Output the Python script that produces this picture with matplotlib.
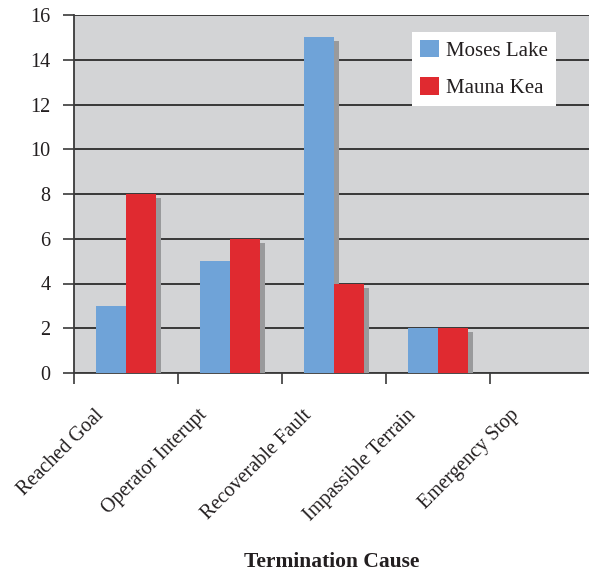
import matplotlib
matplotlib.use("Agg")
import matplotlib.pyplot as plt
import matplotlib.patheffects as pe
import matplotlib.transforms as mtransforms
from matplotlib.patches import Patch
import numpy as np

categories = ["Reached Goal", "Operator Interupt", "Recoverable Fault",
              "Impassible Terrain", "Emergency Stop"]
moses_lake = [3, 5, 15, 2, 0]
mauna_kea = [8, 6, 4, 2, 0]
series_names = ["Moses Lake", "Mauna Kea"]
y_ticks = [0, 2, 4, 6, 8, 10, 12, 14, 16]

plt.rcParams["font.family"] = ["Liberation Serif", "DejaVu Serif"]

W, H, DPI = 589, 574, 100
fig = plt.figure(figsize=(W / DPI, H / DPI), dpi=DPI)
ax = fig.add_axes([74 / W, 1 - 373 / H, (W - 74) / W, (373 - 15) / H])
ax.set_facecolor("#d3d4d6")

x = np.arange(len(categories))
bw = 0.29
blue, red = "#6fa3d8", "#e02a30"
shadow = [pe.SimplePatchShadow(offset=(3.6, -2.9), shadow_rgbFace="#999a9c", alpha=1.0),
          pe.Normal()]

b1 = ax.bar(x - bw / 2, moses_lake, bw, color=blue, zorder=3)
b2 = ax.bar(x + bw / 2, mauna_kea, bw, color=red, zorder=4)
for bars in (b1, b2):
    for p in bars:
        if p.get_height() > 0:
            p.set_path_effects(shadow)

ax.set_ylim(0, 16)
ax.set_xlim(-0.5, -0.5 + (W - 74) / 104)
ax.set_yticks(y_ticks)
ax.set_yticklabels([str(v) for v in y_ticks], fontsize=14.5, color="#231f20")
ax.yaxis.grid(True, color="#2b2b2b", linewidth=1.3, zorder=1)
ax.set_axisbelow(True)

# ticks sit at the category boundaries
ax.set_xticks(np.arange(len(categories)) - 0.5)
ax.set_xticklabels([])
ax.tick_params(axis="x", direction="out", length=8, width=1.2, color="#3a3a3a")
ax.tick_params(axis="y", direction="out", length=8, width=1.2, color="#3a3a3a", pad=9)

for s in ("top", "right"):
    ax.spines[s].set_visible(False)
for s in ("left", "bottom"):
    ax.spines[s].set_color("#3a3a3a")
    ax.spines[s].set_linewidth(1.3)

# rotated category labels
offset = mtransforms.ScaledTranslation(-6 / DPI, -33 / DPI, fig.dpi_scale_trans)
trans = mtransforms.blended_transform_factory(ax.transData, ax.transAxes) + offset
for i, name in enumerate(categories):
    ax.text(i - 0.25, 0, name, transform=trans, rotation=45,
            rotation_mode="anchor", ha="right", va="top",
            fontsize=14.5, color="#231f20")

fig.text((74 + W) / 2 / W, 1 - 562 / H, "Termination Cause", ha="center",
         va="center", fontsize=15.5, fontweight="bold", color="#231f20")

handles = [Patch(facecolor=blue, edgecolor="none"),
           Patch(facecolor=red, edgecolor="none")]
leg = ax.legend(handles, series_names, loc="upper left",
                bbox_to_anchor=(412 / W, 1 - 32 / H),
                bbox_transform=fig.transFigure, fontsize=15, frameon=True,
                fancybox=False, framealpha=1, handlelength=0.9, handleheight=0.9,
                handletextpad=0.35, labelspacing=0.8, borderpad=0.38,
                borderaxespad=0)
leg.get_frame().set_facecolor("white")
leg.get_frame().set_edgecolor("none")
leg.set_zorder(10)
for t in leg.get_texts():
    t.set_color("#231f20")

fig.savefig("out.png", dpi=DPI)
